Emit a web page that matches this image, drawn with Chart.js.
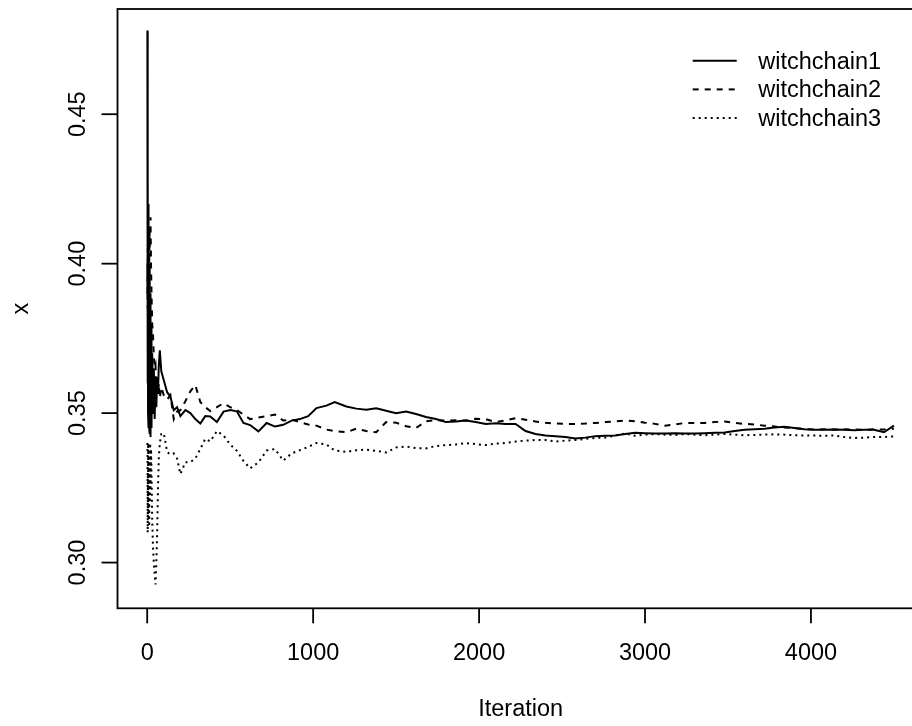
<!DOCTYPE html>
<html>
<head>
<meta charset="utf-8">
<title>witchchain running means</title>
<script src="https://cdn.jsdelivr.net/npm/chart.js@4.4.1/dist/chart.umd.min.js"></script>
<style>
    html, body { margin: 0; padding: 0; background: #fff; overflow: hidden; }
    /* the plot box runs past the right edge of the window, as in the original image */
    #wrap { position: relative; width: 940px; height: 726px; }
</style>
</head>
<body>
<div id="wrap"><canvas id="trace"></canvas></div>
<script>
const iterations = [
    1, 2, 3, 4, 5, 6, 8, 10, 12, 14, 16, 18, 20, 23, 26, 30, 35, 40, 45, 50, 55, 60, 65, 70, 76, 85,
    100, 120, 140, 160, 180, 200,
    230, 260, 290, 320, 350, 380,
    420, 460, 500, 540, 580, 620,
    670, 720, 770, 820, 870, 920, 970, 1020, 1080, 1130,
    1200, 1260, 1320, 1380, 1440, 1500, 1560, 1620, 1680, 1740, 1800, 1860, 1920, 1980, 2040,
    2100, 2160, 2220, 2280, 2340, 2400, 2460, 2520, 2580, 2640, 2700, 2760, 2820, 2880, 2940,
    3000, 3060, 3120, 3180, 3240, 3300, 3360, 3420, 3480, 3540, 3600, 3660, 3720, 3780, 3840,
    3900, 3960, 4020, 4080, 4140, 4200, 4260, 4320, 4380, 4440, 4500
];

const witchchain1 = [
    .478, .437, .36, .43, .35, .42, .345, .41, .345, .40, .343, .39, .342, .38, .345, .37, .35, .365, .348, .362, .352, .362, .357, .366, .371, .364,
    .361, .357, .3555, .351, .352, .349,
    .351, .350, .348, .3465, .349, .3489,
    .347, .3505, .351, .3506, .3467, .346,
    .3439, .3467, .3455, .3461, .3475, .348, .349, .3517, .3525, .3537,
    .3522, .3515, .3511, .3516, .3508, .350, .3505, .3497, .3487, .348, .347, .3472, .3475, .347, .3464,
    .3466, .3464, .3464, .344, .343, .3425, .3423, .342, .3415, .3418, .3423, .3424, .3425, .343, .3434,
    .3433, .3432, .3432, .3433, .3432, .3432, .3433, .3434, .3435, .344, .3444, .3446, .3448, .3452, .3454,
    .345, .3446, .3444, .3444, .3445, .3444, .3443, .3444, .3444, .3436, .3458
];

const witchchain2 = [
    .39, .40, .385, .405, .39, .408, .395, .41, .40, .412, .405, .414, .4155, .40, .39, .38, .376, .369, .365, .366, .358, .362, .356, .36, .355, .3587,
    .356, .3545, .356, .348, .3505, .351,
    .354, .3573, .3594, .3537, .352, .3507,
    .352, .3533, .352, .351, .3495, .348,
    .3485, .349, .3495, .3475, .3478, .347, .3462, .3458, .3445, .344,
    .3436, .3448, .344, .3436, .347, .3468, .3456, .345, .3473, .3476, .3475, .3476, .3475, .3481, .348,
    .347, .3476, .3483, .3478, .3472, .3468, .3465, .3464, .3464, .3465, .3467, .347, .3472, .3475, .3473,
    .3468, .3464, .3458, .3462, .3467, .3467, .3467, .347, .3472, .3467, .3464, .3462, .3458, .3455, .3452,
    .345, .3447, .3445, .3446, .3445, .3446, .3445, .3444, .3446, .3445, .3448
];

const witchchain3 = [
    .34, .335, .31, .33, .315, .34, .318, .335, .312, .338, .32, .34, .325, .338, .33, .315, .305, .30, .296, .2927, .30, .31, .325, .335, .34, .343,
    .3433, .337, .3361, .3365, .3348, .3296,
    .3336, .3336, .3348, .338, .3414, .3405,
    .344, .3425, .3395, .3374, .334, .3315,
    .3335, .3375, .338, .3341, .3365, .3376, .3387, .340, .3395, .3375,
    .337, .3376, .3378, .3374, .3368, .3385, .3388, .3383, .3382, .339, .3393, .3395, .340, .3396, .3393,
    .3398, .340, .3405, .3408, .341, .341, .3405, .3408, .341, .3414, .3417, .3418, .3425, .3432, .3424,
    .3428, .343, .3428, .3427, .343, .3428, .3426, .3428, .343, .3428, .3426, .3427, .3428, .3429, .3428,
    .3426, .3425, .3425, .3424, .3425, .342, .3417, .3418, .342, .342, .3422
];

const chainNames = ['witchchain1', 'witchchain2', 'witchchain3'];

// Axis ticks and labels
const xTickValues = [0, 1000, 2000, 3000, 4000];
const xTickLabels = ['0', '1000', '2000', '3000', '4000'];
const yTickValues = [0.30, 0.35, 0.40, 0.45];
const yTickLabels = ['0.30', '0.35', '0.40', '0.45'];
const xTitle = 'Iteration';
const yTitle = 'x';

// Line styles in R's lty order: solid, dashed, dotted
const dashes = [[], [6, 6], [2, 4]];
const FONT = '23.5px "Liberation Sans", Arial, sans-serif';

function toPoints(values) {
    return iterations.map((it, i) => ({ x: it, y: values[i] }));
}

// Draws the R style frame, ticks, labels and legend from the chart scales
const rFrame = {
    id: 'rFrame',
    afterDraw(chart) {
        const ctx = chart.ctx;
        const area = chart.chartArea;
        const xs = chart.scales.x;
        const ys = chart.scales.y;
        ctx.save();
        ctx.strokeStyle = '#000';
        ctx.fillStyle = '#000';
        ctx.lineWidth = 1.8;
        ctx.setLineDash([]);

        // box
        ctx.strokeRect(area.left, area.top, area.right - area.left, area.bottom - area.top);

        ctx.font = FONT;

        // x axis
        xTickValues.forEach((v, i) => {
            const px = xs.getPixelForValue(v);
            ctx.beginPath();
            ctx.moveTo(px, area.bottom);
            ctx.lineTo(px, area.bottom + 15);
            ctx.stroke();
            ctx.textAlign = 'center';
            ctx.textBaseline = 'alphabetic';
            ctx.fillText(xTickLabels[i], px, area.bottom + 52);
        });

        // y axis, labels parallel to the axis
        yTickValues.forEach((v, i) => {
            const py = ys.getPixelForValue(v);
            ctx.beginPath();
            ctx.moveTo(area.left - 16, py);
            ctx.lineTo(area.left, py);
            ctx.stroke();
            ctx.save();
            ctx.translate(area.left - 33, py);
            ctx.rotate(-Math.PI / 2);
            ctx.textAlign = 'center';
            ctx.textBaseline = 'alphabetic';
            ctx.fillText(yTickLabels[i], 0, 0);
            ctx.restore();
        });

        // axis titles
        ctx.textAlign = 'center';
        ctx.textBaseline = 'alphabetic';
        ctx.fillText(xTitle, (area.left + area.right) / 2, area.bottom + 108);
        ctx.save();
        ctx.translate(28, (area.top + area.bottom) / 2);
        ctx.rotate(-Math.PI / 2);
        ctx.fillText(yTitle, 0, 0);
        ctx.restore();

        // legend
        ctx.lineWidth = 2;
        chainNames.forEach((name, i) => {
            const ly = 60.7 + i * 28.7;
            ctx.beginPath();
            ctx.setLineDash(dashes[i]);
            ctx.moveTo(692.7, ly);
            ctx.lineTo(736.7, ly);
            ctx.stroke();
            ctx.setLineDash([]);
            ctx.textAlign = 'left';
            ctx.fillText(name, 758.3, ly + 8);
        });
        ctx.restore();
    }
};

const series = [witchchain1, witchchain2, witchchain3];

new Chart(document.getElementById('trace'), {
    type: 'line',
    data: {
        datasets: series.map((values, i) => ({
            label: chainNames[i],
            data: toPoints(values),
            borderColor: '#000',
            borderWidth: 2,
            borderDash: dashes[i],
            borderCapStyle: 'butt',
            pointRadius: 0,
            tension: 0,
            fill: false,
            order: series.length - i
        }))
    },
    options: {
        responsive: true,
        maintainAspectRatio: false,
        devicePixelRatio: 1,
        animation: false,
        layout: { padding: { left: 117.5, top: 9, right: 16.2, bottom: 117.7 } },
        plugins: { legend: { display: false }, tooltip: { enabled: false } },
        scales: {
            x: { type: 'linear', min: -179, max: 4680, display: false },
            y: { type: 'linear', min: 0.2847, max: 0.4852, display: false }
        }
    },
    plugins: [rFrame]
});
</script>
</body>
</html>
